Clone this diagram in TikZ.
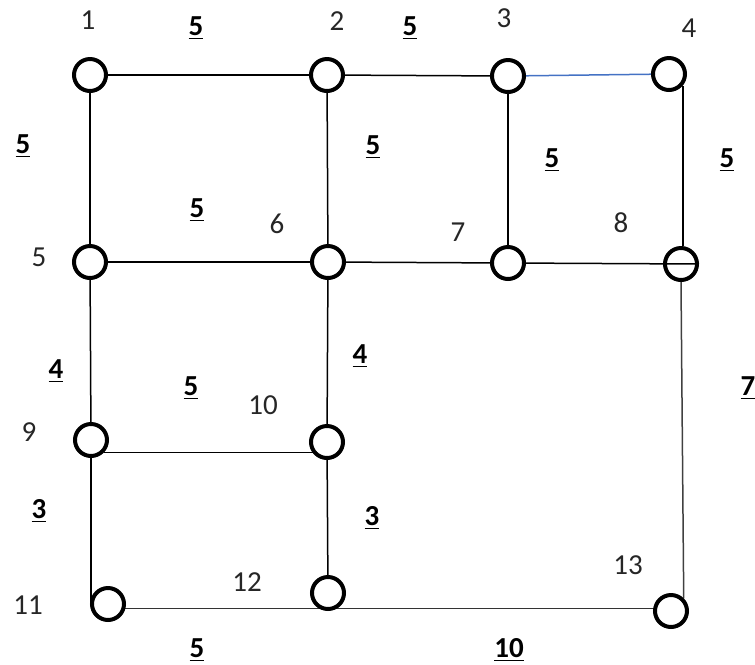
\documentclass[tikz,border=0pt]{standalone}
\usepackage{fontspec}
\setmainfont{Carlito}
\usetikzlibrary{backgrounds}
\definecolor{linkblue}{RGB}{68,114,196}

\begin{document}
\begin{tikzpicture}[x=0.02cm,y=-0.02cm,
  vtx/.style={circle,draw,line width=0.08cm,fill=white,minimum size=0.64cm,inner sep=0pt},
  edge/.style={line width=0.03cm},
  num/.style={text=black!85,font=\fontsize{16.5}{18}\selectfont,inner sep=0pt},
  wt/.style={font=\fontsize{16.5}{18}\selectfont\bfseries,inner sep=0pt}]
  \useasboundingbox (0,0) rectangle (755,664);

  \foreach \n/\x/\y in {1/90/75,2/327/75,3/508/76,4/669/74,
                        5/90/262,6/328/262,7/508/263,8/681/264,
                        9/91/440,10/327/442,11/108/604,12/328/593,13/671/611} {
    \node[vtx] (n\n) at (\x,\y) {};
  }
  \foreach \n/\x/\y in {1/88/20,2/337/21,3/504/18,4/689/28,
                        5/39/257,6/277/224,7/458/232,8/621/223,
                        9/29/432,10/263/405,11/28/605,12/247/582,13/628/565} {
    \node[num] (l\n) at (\x,\y) {\n};
  }
  \foreach \e/\x/\y/\w in {1-2/196/28/5,2-3/410/28/5,1-5/23/146/5,2-6/373/147/5,
                           3-7/552/160/5,4-8/727/160/5,5-6/197/210/5,5-9/56/371/4,
                           6-10/360/356/4,9-10/191/388/5,9-11/39/511/3,10-12/372/518/3,
                           11-12/197/650/5,12-13/509/650/10,8-13/748/388/7} {
    \node[wt] (w\e) at (\x,\y) {\underline{\w}};
  }

  \begin{scope}[on background layer]
    \draw[edge] (n1) -- (n2);
    \draw[edge] (n2) -- (n3);
    \draw[edge,linkblue] (n3) -- (n4);
    \draw[edge] (n1) -- (n5);
    \draw[edge] (n2) -- (n6);
    \draw[edge] (n3) -- (n7);
    \draw[edge] (n4.-40) -- (n4.-40 |- n8.north);
    \draw[edge] (n5) -- (n6);
    \draw[edge] (n6) -- (n7);
    \draw[edge] (n5) -- (n9);
    \draw[edge] (n6) -- (n10);
    \draw[edge] (n9.-45) -- (n9.-45 -| n10.south west);
    \draw[edge] (n9) -- (n9 |- n11);
    \draw[edge] (n10) -- (n12);
    \draw[edge,black!75] (n8.south) -- (n13.north east);
    \draw[edge,black!80] (n11.-15) -- (n11.-15 -| n13.center);
  \end{scope}
  \draw[edge] (n7) -- (n8.east);
\end{tikzpicture}
\end{document}
